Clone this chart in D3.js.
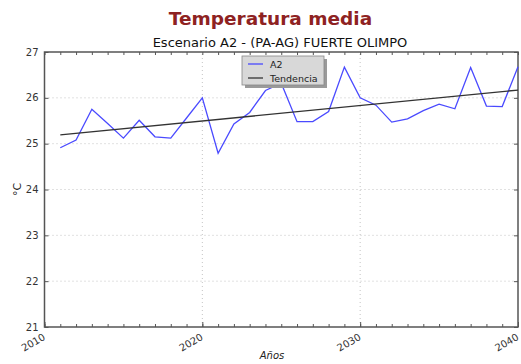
<!DOCTYPE html>
<html>
<head>
<meta charset="utf-8">
<script src="https://cdn.jsdelivr.net/npm/d3@7"></script>
<style>
  html, body { margin: 0; padding: 0; background: #fff; }
  svg { display: block; }
  text { font-family: "DejaVu Sans", sans-serif; }
</style>
</head>
<body>
<div id="chart"></div>
<script>
// Annual mean temperature, scenario A2, Fuerte Olimpo
const years = [2011, 2012, 2013, 2014, 2015, 2016, 2017, 2018, 2019, 2020,
               2021, 2022, 2023, 2024, 2025, 2026, 2027, 2028, 2029, 2030,
               2031, 2032, 2033, 2034, 2035, 2036, 2037, 2038, 2039, 2040];
const tempA2 = [24.91, 25.08, 25.75, 25.44, 25.12, 25.51, 25.15, 25.12, 25.56, 26.00,
                24.79, 25.43, 25.68, 26.16, 26.32, 25.48, 25.48, 25.70, 26.67, 26.00,
                25.84, 25.47, 25.54, 25.72, 25.86, 25.76, 26.66, 25.82, 25.81, 26.68];
// Linear trend, given at its two ends
const trendYears = [2011, 2040];
const trendValues = [25.19, 26.17];

const xTicks = [2010, 2020, 2030, 2040];
const yTicks = [21, 22, 23, 24, 25, 26, 27];
const legendLabels = ["A2", "Tendencia"];

const W = 521, H = 364;
const m = { left: 44.5, right: 3, top: 52, bottom: 37 };

const svg = d3.select("#chart").append("svg").attr("width", W).attr("height", H);

const x = d3.scaleLinear().domain([2010, 2040]).range([m.left, W - m.right]);
const y = d3.scaleLinear().domain([21, 27]).range([H - m.bottom, m.top]);

// Titles
svg.append("text").attr("x", 270.5).attr("y", 25).attr("text-anchor", "middle")
  .style("font-size", "18.5px").style("font-weight", "bold").attr("fill", "#8e2222")
  .text("Temperatura media");
svg.append("text").attr("x", 280).attr("y", 47).attr("text-anchor", "middle")
  .style("font-size", "13px").attr("fill", "#111")
  .text("Escenario A2 - (PA-AG) FUERTE OLIMPO");

// Dotted grid
const grid = svg.append("g").attr("stroke", "#aaa").attr("stroke-width", 0.7)
  .attr("stroke-dasharray", "1,3");
grid.selectAll(".gy").data(yTicks.slice(1, -1)).join("line")
  .attr("x1", x.range()[0]).attr("x2", x.range()[1])
  .attr("y1", d => y(d)).attr("y2", d => y(d));
grid.selectAll(".gx").data(xTicks.slice(1, -1)).join("line")
  .attr("y1", y.range()[0]).attr("y2", y.range()[1])
  .attr("x1", d => x(d)).attr("x2", d => x(d));

// Axes with inward ticks
const minorYears = d3.range(2010, 2041);
const axisColor = "#555";
function styleAxis(g) {
  g.select(".domain").remove();
  g.selectAll(".tick line").attr("stroke", axisColor).attr("stroke-width", 1);
}
svg.append("g").attr("transform", `translate(0,${y(21)})`)
  .call(d3.axisBottom(x).tickValues(minorYears).tickSize(-3).tickFormat(""))
  .call(styleAxis);
svg.append("g").attr("transform", `translate(0,${y(27)})`)
  .call(d3.axisTop(x).tickValues(minorYears).tickSize(-3).tickFormat(""))
  .call(styleAxis);
svg.append("g").attr("transform", `translate(0,${y(21)})`)
  .call(d3.axisBottom(x).tickValues(xTicks).tickSize(-5).tickFormat(""))
  .call(styleAxis);
svg.append("g").attr("transform", `translate(${x(2010)},0)`)
  .call(d3.axisLeft(y).tickValues(yTicks).tickSize(-4).tickFormat(""))
  .call(styleAxis);
svg.append("g").attr("transform", `translate(${x(2040)},0)`)
  .call(d3.axisRight(y).tickValues(yTicks).tickSize(-4).tickFormat(""))
  .call(styleAxis);

// Frame
svg.append("rect").attr("x", x(2010)).attr("y", y(27))
  .attr("width", x(2040) - x(2010)).attr("height", y(21) - y(27))
  .attr("fill", "none").attr("stroke", axisColor).attr("stroke-width", 1.5);

// Tick labels
svg.append("g").selectAll("text").data(yTicks).join("text")
  .attr("x", x(2010) - 6).attr("y", d => y(d) + 3.5).attr("text-anchor", "end")
  .style("font-size", "10px").attr("fill", "#333").text(d => d);
svg.append("g").selectAll("text").data(xTicks).join("text")
  .attr("transform", d => `translate(${x(d) - 2},${y(21) + 6}) rotate(-30)`)
  .attr("text-anchor", "end").attr("dy", "0.7em")
  .style("font-size", "10px").attr("fill", "#333").text(d => d);

// Axis titles
svg.append("text").attr("x", 272).attr("y", 359).attr("text-anchor", "middle")
  .style("font-size", "10px").style("font-style", "italic").attr("fill", "#222")
  .text("Años");
svg.append("text").attr("transform", `translate(21,${y(24)}) rotate(-90)`)
  .attr("text-anchor", "middle").style("font-size", "11px").attr("fill", "#222")
  .text("°C");

// Series
const line = d3.line().x(d => x(d[0])).y(d => y(d[1]));
svg.append("path").datum(d3.zip(years, tempA2)).attr("d", line)
  .attr("fill", "none").attr("stroke", "#4a4aff").attr("stroke-width", 1.3);
svg.append("path").datum(d3.zip(trendYears, trendValues)).attr("d", line)
  .attr("fill", "none").attr("stroke", "#333").attr("stroke-width", 1.3);

// Legend
const lg = svg.append("g").attr("transform", "translate(242,56)");
lg.append("rect").attr("x", 3).attr("y", 3).attr("width", 82).attr("height", 29)
  .attr("fill", "#9a9a9a");
lg.append("rect").attr("x", 0).attr("y", 0).attr("width", 82).attr("height", 29)
  .attr("fill", "#d8d8d8").attr("stroke", "#888").attr("stroke-width", 0.8);
const legColors = ["#4a4aff", "#333"];
legendLabels.forEach((lab, i) => {
  const yy = 8 + i * 14;
  lg.append("line").attr("x1", 6).attr("x2", 21).attr("y1", yy).attr("y2", yy)
    .attr("stroke", legColors[i]).attr("stroke-width", 1.3);
  lg.append("text").attr("x", 28).attr("y", yy + 3.5).style("font-size", "9.5px")
    .attr("fill", "#222").text(lab);
});
</script>
</body>
</html>
